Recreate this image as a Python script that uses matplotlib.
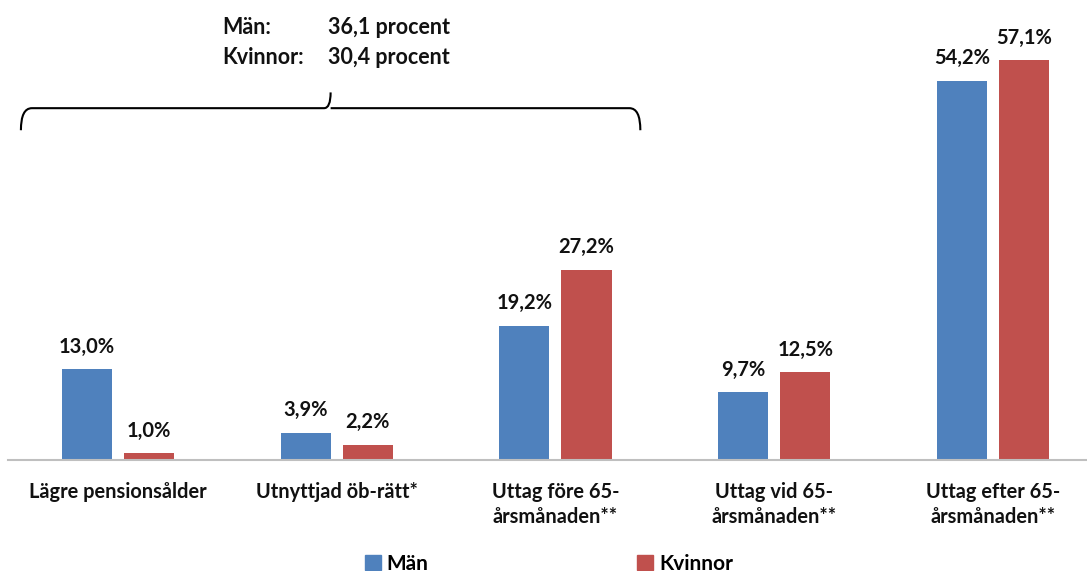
import matplotlib
matplotlib.use("Agg")
import matplotlib.pyplot as plt
from matplotlib.path import Path
from matplotlib.patches import PathPatch, Patch
import numpy as np

categories = ["Lägre pensionsålder", "Utnyttjad öb-rätt*", "Uttag före 65-\nårsmånaden**",
              "Uttag vid 65-\nårsmånaden**", "Uttag efter 65-\nårsmånaden**"]
man = [13.0, 3.9, 19.2, 9.7, 54.2]
kvinnor = [1.0, 2.2, 27.2, 12.5, 57.1]
series_names = ["Män", "Kvinnor"]
summary_lines = [("Män:", "36,1 procent"), ("Kvinnor:", "30,4 procent")]

BLUE = "#4F81BD"
RED = "#C0504D"
FONT = ["Lato", "DejaVu Sans"]

W, H = 1087, 571
fig = plt.figure(figsize=(W / 100, H / 100), dpi=100)
ax = fig.add_axes([8 / W, (H - 460) / H, (W - 8) / W, 460 / H])

x = np.arange(len(categories))
bw = 0.229
off = 0.142
b1 = ax.bar(x - off, man, bw, color=BLUE)
b2 = ax.bar(x + off, kvinnor, bw, color=RED)

ax.set_xlim(-0.503, 4.43)
ax.set_ylim(0, 65.7)

def fmt(v):
    return f"{v:.1f}".replace(".", ",") + "%"

for bars, vals in ((b1, man), (b2, kvinnor)):
    for r, v in zip(bars, vals):
        ax.annotate(fmt(v), (r.get_x() + r.get_width() / 2, v), xytext=(0, 9),
                    textcoords="offset points", ha="center", va="bottom",
                    fontsize=14.5, fontweight="bold", family=FONT, color="#111111")

for s in ["top", "right", "left"]:
    ax.spines[s].set_visible(False)
ax.spines["bottom"].set_color("#BFBFBF")
ax.spines["bottom"].set_linewidth(1.5)
ax.set_yticks([])
ax.set_xticks(x)
ax.set_xticklabels(categories, fontsize=14.4, fontweight="bold", family=FONT,
                   linespacing=1.3, va="top", color="#111111")
ax.tick_params(axis="x", length=0, pad=16)

# bracket
xl, xr = -0.444, 2.388
xm = (xl + xr) / 2
yl, yb, yt = 50.25, 47.1, 52.5
verts = [(xl, yb), (xl, yl), (xl + 0.05, yl), (xm - 0.03, yl), (xm, yl), (xm, yt),
         (xm, yl), (xm + 0.03, yl), (xr - 0.05, yl), (xr, yl), (xr, yb)]
codes = [Path.MOVETO, Path.CURVE3, Path.CURVE3, Path.LINETO, Path.CURVE3, Path.CURVE3,
         Path.MOVETO, Path.CURVE3, Path.LINETO, Path.CURVE3, Path.CURVE3]
ax.add_patch(PathPatch(Path(verts, codes), fill=False, lw=1.5, color="black"))

for i, (a, b) in enumerate(summary_lines):
    yy = 27 + i * 30
    fig.text(222 / W, 1 - yy / H, a, fontsize=15.5, fontweight="bold", family=FONT,
             va="center", ha="left", color="#111111")
    fig.text(328 / W, 1 - yy / H, b, fontsize=15.5, fontweight="bold", family=FONT,
             va="center", ha="left", color="#111111")

handles = [Patch(color=BLUE), Patch(color=RED)]
fig.legend(handles, series_names, loc="center left", bbox_to_anchor=(365 / W, 1 - 564 / H),
           ncol=2, frameon=False, prop={"family": FONT, "weight": "bold", "size": 15},
           handlelength=0.75, handleheight=0.75, handletextpad=0.3, columnspacing=10.0,
           borderaxespad=0, borderpad=0)

fig.savefig("out.png", dpi=100)
